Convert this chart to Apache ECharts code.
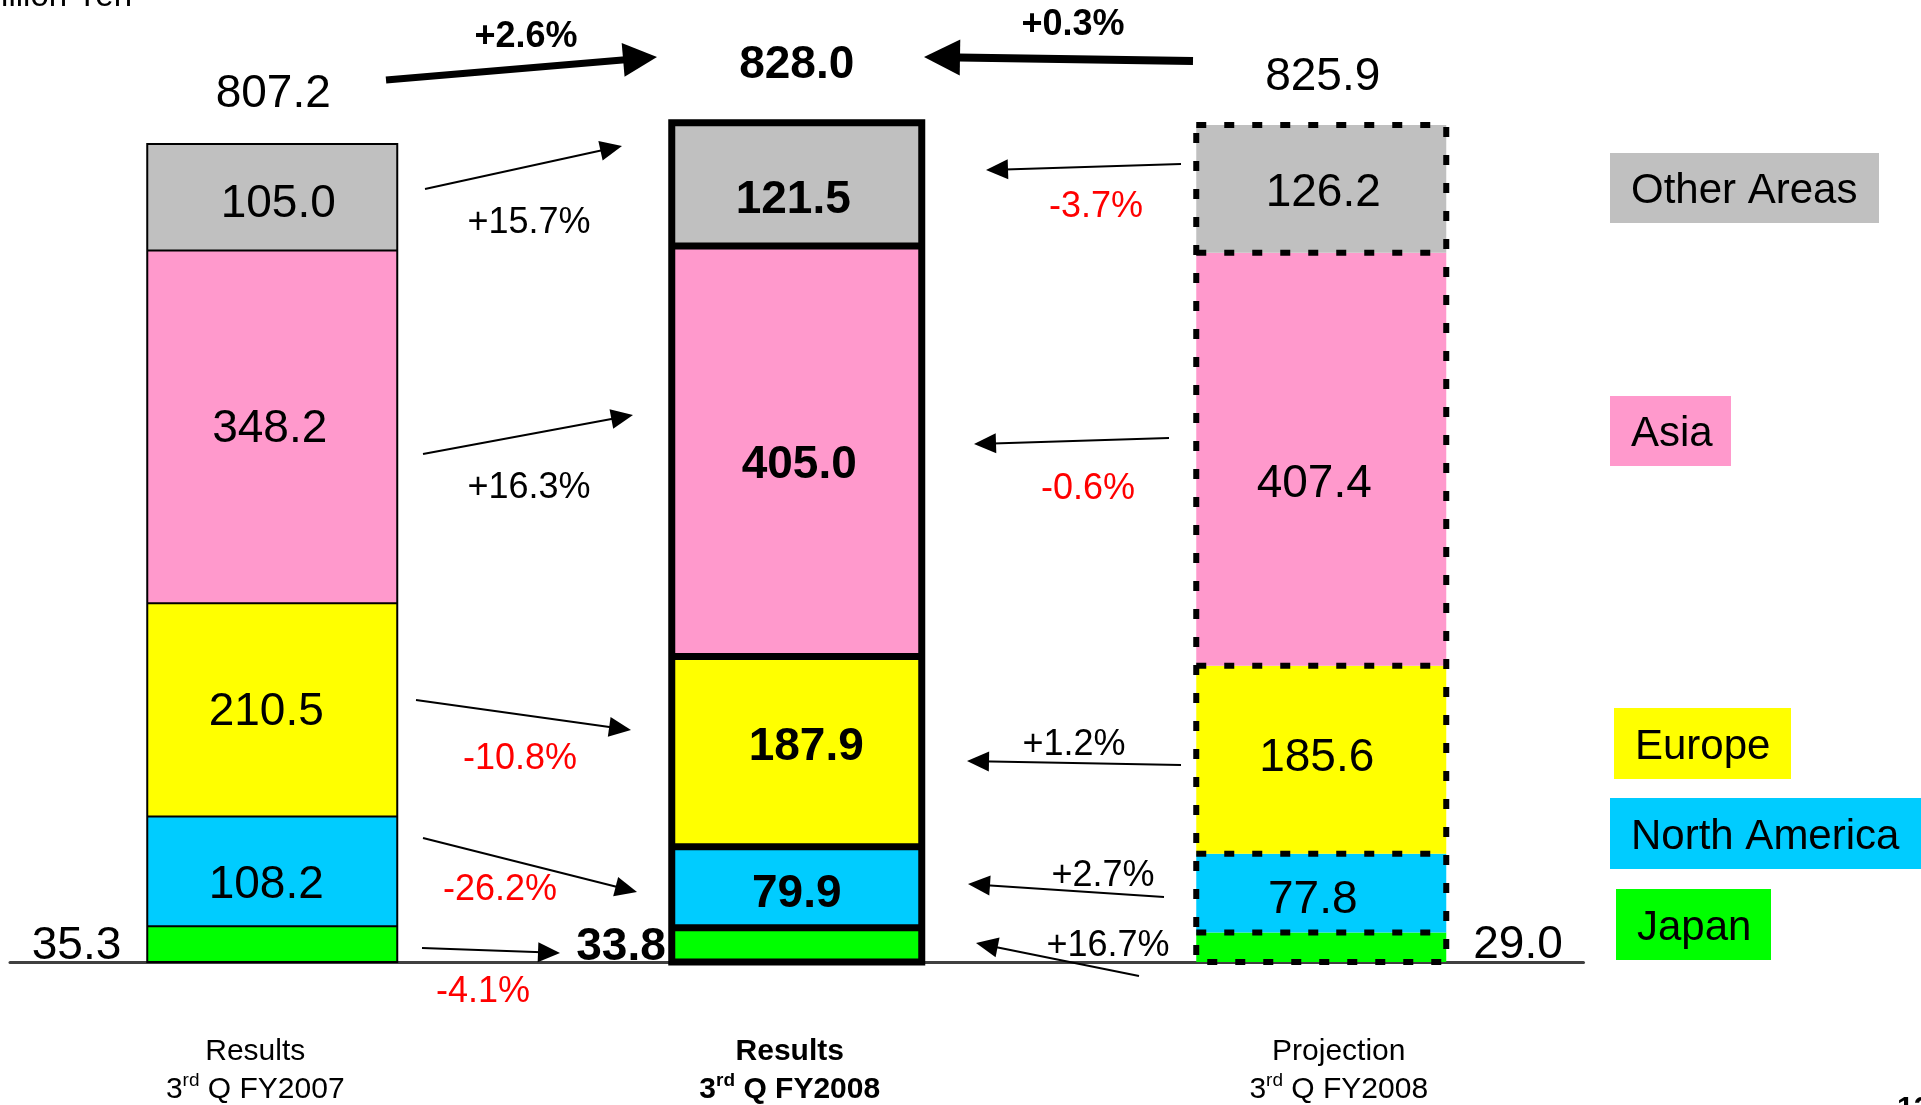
<!DOCTYPE html>
<html>
<head>
<meta charset="utf-8">
<title>Sales by region</title>
<script src="https://cdn.jsdelivr.net/npm/echarts@6/dist/echarts.min.js"></script>
<style>
  html, body { margin: 0; padding: 0; background: #fff; }
  #regionChart { width: 1921px; height: 1105px; }
</style>
</head>
<body>
<div id="regionChart"></div>
<script>
// columns
const categories = ['Results\n3rd Q FY2007', 'Results\n3rd Q FY2008', 'Projection\n3rd Q FY2008']
// billion yen, stacked bottom to top
const japan = [35.3, 33.8, 29.0]
const northAmerica = [108.2, 79.9, 77.8]
const europe = [210.5, 187.9, 185.6]
const asia = [348.2, 405.0, 407.4]
const otherAreas = [105.0, 121.5, 126.2]
const totals = [807.2, 828.0, 825.9]
// change labels as printed (Japan -> Other Areas)
const totalChange = ['+2.6%', '+0.3%']
const changeVsLastYear = ['-4.1%', '-26.2%', '-10.8%', '+16.3%', '+15.7%']
const changeVsProjection = ['+16.7%', '+2.7%', '+1.2%', '-0.6%', '-3.7%']

const FONT = "'Liberation Sans', Arial, Helvetica, sans-serif"
const BAR_W = 250

const regions = [
  { name: 'Japan', data: japan, color: '#00FF00' },
  { name: 'North America', data: northAmerica, color: '#00CCFF' },
  { name: 'Europe', data: europe, color: '#FFFF00' },
  { name: 'Asia', data: asia, color: '#FF99CC' },
  { name: 'Other Areas', data: otherAreas, color: '#C0C0C0' }
]

// look of each column
const columnLook = [
  { weight: 'normal', frame: 2, dash: null, shift: [0, 34, 0, 0] },
  { weight: 'bold', frame: 7, dash: null, shift: [0, 14, 0, 0] },
  { weight: 'normal', frame: 6, dash: [10, 18], shift: [0, 0, 0, 35] }
]
// label nudges [dx, dy], region x column
const labelNudge = [
  [[0, 2.5], [0, 2.5], [0, -2]],
  [[-6, 13.5], [0, 7], [-8.5, 7.5]],
  [[-6, 2.5], [9.5, -4], [-4.5, -1.5]],
  [[-2.5, 2.5], [2.5, 14], [-7, 25.5]],
  [[6, 7.5], [-3.5, 15.5], [2, 4.5]]
]
const japanLabelPos = [['left', 26], ['left', 6], ['right', 27]]
const totalNudge = [[1, -49.5], [0, -58], [1.5, -48]]

// arrows: x1, y1, tipX, tipY, lineWidth, headLen, headWidth
const totalArrows = [[386, 80, 657, 57, 7, 34, 34], [1193, 61, 924, 57, 8, 36, 36]]
const totalChangeSpots = [[526, 37], [1073, 25]]
const leftArrows = [[422, 948, 560, 953], [423, 838, 637, 892], [416, 700, 631, 730], [423, 454, 633, 415], [425, 189, 622, 146]]
const leftSpots = [[483, 992], [500, 890], [520, 759], [529, 488], [529, 223]]
const rightArrows = [[1139, 976, 976, 943], [1164, 897, 968, 884], [1181, 765, 967, 761], [1169, 438, 974, 444], [1181, 164, 986, 170]]
const rightSpots = [[1108, 946.5], [1103, 876.5], [1074, 745.5], [1088, 489], [1096, 207.5]]

const legendBoxes = [
  { name: 'Other Areas', x: 1610, y: 153, w: 269, h: 70 },
  { name: 'Asia', x: 1610, y: 396, w: 121, h: 70 },
  { name: 'Europe', x: 1614, y: 708, w: 177, h: 71 },
  { name: 'North America', x: 1610, y: 798, w: 320, h: 71 },
  { name: 'Japan', x: 1616, y: 889, w: 155, h: 71 }
]

function textEl(text, x, y, size, opts) {
  opts = opts || {}
  return {
    type: 'text', x: x, y: y, silent: true, z: 20,
    style: {
      text: text, fontSize: size, fontFamily: FONT, fontWeight: opts.bold ? 'bold' : 'normal',
      fill: opts.color || '#000',
      align: opts.align || 'center', verticalAlign: opts.valign || 'middle',
      textAlign: opts.align || 'center', textVerticalAlign: opts.valign || 'middle'
    }
  }
}

function arrowEls(a) {
  const [x1, y1, x2, y2] = a
  const w = a[4] || 2, len = a[5] || 22, hw = (a[6] || 20) / 2
  const ang = Math.atan2(y2 - y1, x2 - x1)
  const bx = x2 - len * Math.cos(ang), by = y2 - len * Math.sin(ang)
  const px = -Math.sin(ang) * hw, py = Math.cos(ang) * hw
  return [
    { type: 'line', silent: true, z: 20, shape: { x1: x1, y1: y1, x2: (bx + x2) / 2, y2: (by + y2) / 2 }, style: { stroke: '#000', lineWidth: w } },
    { type: 'polygon', silent: true, z: 20, shape: { points: [[x2, y2], [bx + px, by + py], [bx - px, by - py]] }, style: { fill: '#000' } }
  ]
}

const chartDom = document.getElementById('regionChart')
const regionChart = echarts.init(chartDom)

const barSeries = regions.map((r, ri) => ({
  name: r.name,
  type: 'bar',
  stack: 'total',
  barWidth: BAR_W,
  silent: true,
  itemStyle: { color: r.color, borderWidth: 0 },
  label: {
    show: true,
    fontSize: 46,
    fontFamily: FONT,
    color: '#000',
    formatter: p => Number(p.value).toFixed(1)
  },
  data: r.data.map((v, ci) => {
    const label = { fontWeight: columnLook[ci].weight, offset: labelNudge[ri][ci] }
    if (ri === 0) {
      label.position = japanLabelPos[ci][0]
      label.distance = japanLabelPos[ci][1]
    } else {
      label.position = 'inside'
    }
    return { value: v, label: label }
  })
}))

// outlines and dividers of each column
const stackEdges = categories.map((c, ci) => {
  let sum = 0
  const edges = [0]
  regions.forEach(r => { sum += r.data[ci]; edges.push(sum) })
  return edges
})

const frameSeries = {
  type: 'custom',
  silent: true,
  z: 5,
  data: categories.map((c, i) => [i, totals[i]]),
  encode: { x: 0, y: 1 },
  renderItem: (params, api) => {
    const i = api.value(0)
    const look = columnLook[i]
    const edges = stackEdges[i]
    const base = api.coord([i, 0])
    const cx = base[0]
    const yTop = api.coord([i, edges[edges.length - 1]])[1]
    const st = { stroke: '#000', fill: 'none', lineWidth: look.frame, lineDash: look.dash }
    const children = [{
      type: 'rect',
      shape: { x: cx - BAR_W / 2, y: yTop, width: BAR_W, height: base[1] - yTop },
      style: st
    }]
    edges.slice(1, -1).forEach(v => {
      const y = api.coord([i, v])[1]
      children.push({ type: 'line', shape: { x1: cx - BAR_W / 2, y1: y, x2: cx + BAR_W / 2, y2: y }, style: st })
    })
    return { type: 'group', children: children }
  }
}

const totalSeries = {
  type: 'scatter',
  silent: true,
  z: 6,
  symbolSize: 1,
  itemStyle: { color: 'rgba(0,0,0,0)', opacity: 1 },
  label: {
    show: true,
    position: 'inside',
    fontSize: 46,
    fontFamily: FONT,
    color: '#000',
    textBorderWidth: 0,
    formatter: p => Number(p.value).toFixed(1)
  },
  data: totals.map((v, i) => ({ value: v, label: { fontWeight: columnLook[i].weight, offset: totalNudge[i] } }))
}

const graphics = []
totalArrows.forEach((a, i) => {
  graphics.push(...arrowEls(a))
  graphics.push(textEl(totalChange[i], totalChangeSpots[i][0], totalChangeSpots[i][1], 36, { bold: true }))
})
leftArrows.forEach((a, i) => {
  graphics.push(...arrowEls(a))
  const t = changeVsLastYear[i]
  graphics.push(textEl(t, leftSpots[i][0], leftSpots[i][1], 36, { color: t[0] === '-' ? '#FF0000' : '#000' }))
})
rightArrows.forEach((a, i) => {
  graphics.push(...arrowEls(a))
  const t = changeVsProjection[i]
  graphics.push(textEl(t, rightSpots[i][0], rightSpots[i][1], 36, { color: t[0] === '-' ? '#FF0000' : '#000' }))
})
legendBoxes.forEach(b => {
  const reg = regions.find(r => r.name === b.name)
  graphics.push({ type: 'rect', silent: true, z: 10, shape: { x: b.x, y: b.y, width: b.w, height: b.h }, style: { fill: reg.color } })
  graphics.push(textEl(b.name, b.x + 21, b.y + b.h / 2 + 3.5, 42, { align: 'left' }))
})
// unit caption and page number, both cut by the page edge
graphics.push(textEl('Billion Yen', 132, -3.5, 33, { align: 'right' }))
graphics.push(textEl('12', 1897, 1094, 30, { align: 'left', valign: 'top', bold: true }))

const option = {
  animation: false,
  backgroundColor: '#fff',
  grid: { left: 10, right: 337.5, top: 50, bottom: 143, outerBoundsMode: 'none' },
  xAxis: {
    type: 'category',
    data: categories.map((c, i) => ({ value: c, textStyle: { padding: columnLook[i].shift } })),
    axisTick: { show: false },
    axisLine: { lineStyle: { color: '#404040', width: 3 } },
    axisLabel: {
      interval: 0,
      margin: 71,
      color: '#000',
      formatter: (value, index) => {
        const [title, period] = value.split('\n')
        const m = period.match(/^(\d+)(st|nd|rd|th)(.*)$/)
        const b = index === 1 ? 'B' : ''
        return `{t${b}|${title}}\n{t${b}|${m[1]}}{s${b}|${m[2]}}{t${b}|${m[3]}}`
      },
      rich: {
        t: { fontSize: 30, lineHeight: 38, fontFamily: FONT, color: '#000' },
        s: { fontSize: 19, lineHeight: 30, verticalAlign: 'top', fontFamily: FONT, color: '#000' },
        tB: { fontSize: 30, lineHeight: 38, fontFamily: FONT, fontWeight: 'bold', color: '#000' },
        sB: { fontSize: 19, lineHeight: 30, verticalAlign: 'top', fontFamily: FONT, fontWeight: 'bold', color: '#000' }
      }
    }
  },
  yAxis: { type: 'value', min: 0, max: 900, show: false },
  series: [...barSeries, frameSeries, totalSeries],
  graphic: { elements: graphics }
}

regionChart.setOption(option)
</script>
</body>
</html>
